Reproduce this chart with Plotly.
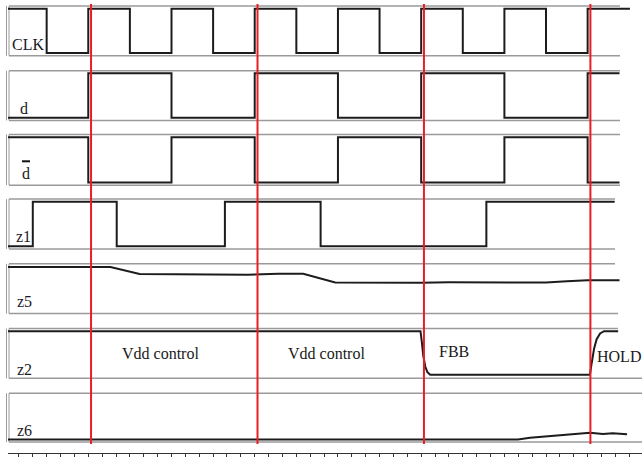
import plotly.graph_objects as go

W, H = 642, 457

# ---------------- data (time in ns, levels normalised to VDD = 1) ----------------
clk_t = [2.2, 5, 8, 11, 14, 17, 20, 23, 26, 29, 32, 35, 38, 41, 44, 47.05]
clk_v = [1, 0, 1, 0, 1, 0, 1, 0, 1, 0, 1, 0, 1, 0, 1, 1]

d_t = [2.2, 8, 14, 20, 26, 32, 38, 44, 46.3]
d_v = [0, 1, 0, 1, 0, 1, 0, 1, 1]

dbar_t = [2.2, 8, 14, 20, 26, 32, 38, 44, 46.3]
dbar_v = [1, 0, 1, 0, 1, 0, 1, 0, 0]

z1_t = [2.2, 4.0, 10.05, 17.85, 24.75, 36.7, 45.95]
z1_v = [0, 1, 0, 1, 0, 1, 1]

z5_t = [2.2, 9.6, 11.7, 13.5, 15.5, 17.5, 19.5, 21.7, 23.5, 25.8, 28.0, 30.0,
        32.0, 34.0, 36.0, 38.5, 39.5, 41.0, 42.5, 44.0, 46.3]
z5_v = [0.99, 0.99, 0.83, 0.825, 0.815, 0.81, 0.815, 0.835, 0.835, 0.64, 0.635, 0.64,
        0.635, 0.645, 0.645, 0.645, 0.63, 0.64, 0.67, 0.69, 0.69]

z2_t = [2.2, 31.95, 32.05, 32.15, 32.3, 32.45, 32.65, 44.17, 44.25, 44.32, 44.46,
        44.65, 44.9, 45.18, 46.2]
z2_v = [1.0, 1.0, 0.75, 0.45, 0.2, 0.08, 0.02, 0.02, 0.2, 0.35, 0.6,
        0.82, 0.95, 1.0, 1.0]

z6_t = [2.2, 38.98, 39.85, 41.5, 42.95, 44.17, 45.1, 45.8, 46.84]
z6_v = [0.0, 0.0, 0.04, 0.09, 0.13, 0.155, 0.125, 0.14, 0.12]

signal_names = ["CLK", "d", "d", "z1", "z5", "z2", "z6"]
marker_times = [8.2, 20.2, 32.2, 44.2]

region_labels = ["Vdd control", "Vdd control", "FBB", "HOLD"]
region_times = [13.24, 25.2, 33.2, 44.6]

# ---------------- layout helpers ----------------
T_LEFT, T_RIGHT = 2.213, 47.92        # x range of the time axis
panels_px = [(6, 56), (71, 121), (135, 186), (200, 250), (265, 315), (330, 380), (395, 444)]
right_px = [(620, 620), (620, 620), (620, 620), (615, 615), (615, 618), (618, 642), (642, 642)]
label_px = [(10.5, 45), (19, 108.5), (21.5, 174), (15, 237.5), (15.5, 303), (16, 371), (16, 432)]

def fx(p):
    return p / W

def fy(p):
    return 1 - p / H

series = [(clk_t, clk_v), (d_t, d_v), (dbar_t, dbar_v), (z1_t, z1_v),
          (z5_t, z5_v), (z2_t, z2_v), (z6_t, z6_v)]
shapes_hv = [True, True, True, True, False, False, False]

SIG = "#1c1c1c"
GRID = "#9a9a9a"
RED = "#ec1c24"
FONT = "Liberation Serif"

fig = go.Figure()
layout = dict(
    width=W, height=H, margin=dict(l=0, r=0, t=0, b=0),
    paper_bgcolor="white", plot_bgcolor="white", showlegend=False,
    xaxis=dict(domain=[fx(8), 1], range=[T_LEFT, T_RIGHT], anchor="free",
               position=fy(455), showgrid=False, zeroline=False,
               showline=True, linecolor="#333", linewidth=1,
               ticks="outside", ticklen=4, tickcolor="#333", tickwidth=1,
               tick0=0, dtick=1, showticklabels=False, fixedrange=True),
)
shapes = []
annotations = []

for i, ((t, v), (top, bot), (r_top, r_bot)) in enumerate(zip(series, panels_px, right_px)):
    yname = "y" if i == 0 else f"y{i+1}"
    lname = "yaxis" if i == 0 else f"yaxis{i+1}"
    layout[lname] = dict(domain=[fy(bot), fy(top)], range=[-0.06, 1.06],
                         visible=False, fixedrange=True)
    fig.add_trace(go.Scatter(
        x=t, y=v, xaxis="x", yaxis=yname, mode="lines",
        line=dict(color=SIG, width=2, shape="hv" if shapes_hv[i] else "linear"),
        hoverinfo="skip"))
    # panel frame
    shapes.append(dict(type="line", xref="paper", yref="paper", x0=fx(9), x1=fx(r_top),
                       y0=fy(top), y1=fy(top), line=dict(color=GRID, width=1.5), layer="below"))
    shapes.append(dict(type="line", xref="paper", yref="paper", x0=fx(9), x1=fx(r_bot),
                       y0=fy(bot), y1=fy(bot), line=dict(color=GRID, width=1.5), layer="below"))
    for xl in (6.5, 9):
        shapes.append(dict(type="line", xref="paper", yref="paper", x0=fx(xl), x1=fx(xl),
                           y0=fy(bot), y1=fy(top), line=dict(color=GRID, width=1), layer="below"))
    lx, ly = label_px[i]
    annotations.append(dict(text=signal_names[i], xref="paper", yref="paper",
                            x=fx(lx), y=fy(ly), xanchor="left", yanchor="middle",
                            showarrow=False, borderpad=0,
                            font=dict(family=FONT, size=16, color="#1a1a28")))

# overline of d-bar
shapes.append(dict(type="line", xref="paper", yref="paper", x0=fx(22), x1=fx(30),
                   y0=fy(162), y1=fy(162), line=dict(color="#111", width=2)))

# red marker lines
for tm in marker_times:
    shapes.append(dict(type="line", xref="x", yref="paper", x0=tm, x1=tm,
                       y0=fy(446), y1=fy(4), line=dict(color=RED, width=2), layer="above"))

# region labels in the z2 panel
label_y = [355, 355, 353.5, 358.5]
anchors = ["center", "center", "left", "left"]
for txt, tm, yy, an in zip(region_labels, region_times, label_y, anchors):
    annotations.append(dict(text=txt, xref="x", yref="paper", x=tm, y=fy(yy),
                            xanchor=an, yanchor="middle", showarrow=False, borderpad=0,
                            font=dict(family=FONT, size=16, color="#1a1a1a")))

layout["shapes"] = shapes
layout["annotations"] = annotations
fig.update_layout(**layout)
fig.write_html("out.html", config={"displayModeBar": False, "staticPlot": True},
               post_script="document.body.style.margin='0';document.body.style.overflow='hidden';")
